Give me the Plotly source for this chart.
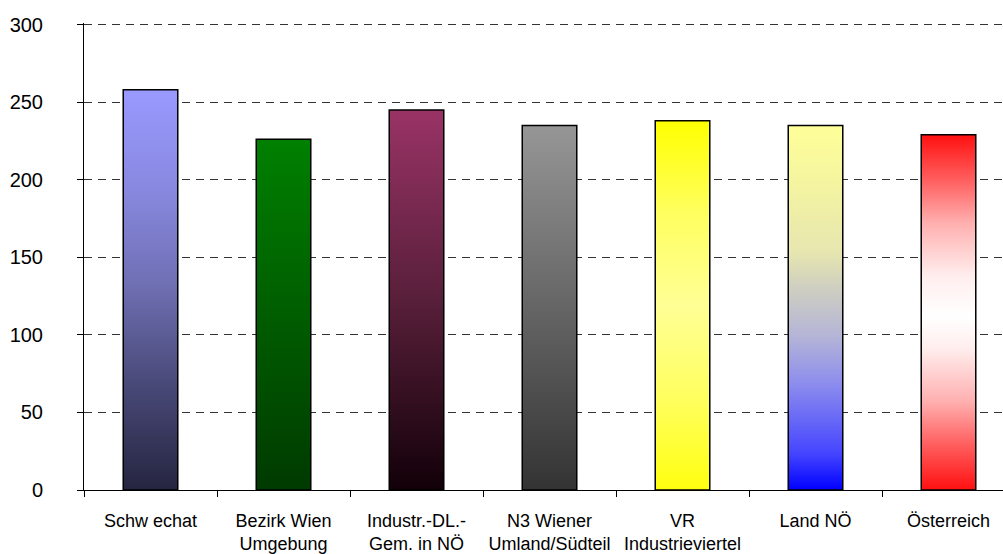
import plotly.graph_objects as go

categories = ["Schw echat", "Bezirk Wien<br>Umgebung", "Industr.-DL.-<br>Gem. in NÖ",
              "N3 Wiener<br>Umland/Südteil", "VR<br>Industrieviertel", "Land NÖ", "Österreich"]
values = [258, 226, 245, 235, 238, 235, 229]
y_ticks = [0, 50, 100, 150, 200, 250, 300]

gradients = [
    [[0, "#252540"], [0.27, "#4a4a7a"], [0.52, "#7070b5"], [0.75, "#8888e0"], [1, "#9999ff"]],
    [[0, "#003a00"], [1, "#008000"]],
    [[0, "#120008"], [0.5, "#581f3a"], [1, "#993366"]],
    [[0, "#333333"], [0.5, "#656565"], [1, "#969696"]],
    [[0, "#ffff10"], [0.25, "#ffff60"], [0.5, "#ffff95"], [0.75, "#ffff60"], [1, "#ffff00"]],
    [[0, "#0000ff"], [0.1, "#4545ff"], [0.29, "#8c8cee"], [0.42, "#b4b4d8"], [0.56, "#d0d0c0"],
     [0.65, "#e6e6b0"], [0.85, "#f5f5a0"], [1, "#ffff99"]],
    [[0, "#ff1010"], [0.13, "#ff6060"], [0.25, "#ffb0b0"], [0.4, "#ffeeee"], [0.49, "#ffffff"],
     [0.6, "#ffeeee"], [0.75, "#ffb0b0"], [0.87, "#ff6060"], [1, "#ff1010"]],
]

bar_width = 0.41
fig = go.Figure()
for i, (v, cs) in enumerate(zip(values, gradients)):
    x0, x1 = i - bar_width / 2, i + bar_width / 2
    fig.add_trace(go.Scatter(
        x=[x0, x1, x1, x0, x0], y=[0, 0, v, v, 0],
        mode="lines", fill="toself",
        fillgradient=dict(type="vertical", colorscale=cs),
        line=dict(color="black", width=1.5),
        hoverinfo="skip", showlegend=False,
    ))

fig.update_layout(
    width=1003, height=554,
    margin=dict(l=84, r=0, t=23, b=61),
    paper_bgcolor="white", plot_bgcolor="white",
    font=dict(family="Liberation Sans, Arial, sans-serif", color="black"),
    showlegend=False,
)
fig.update_xaxes(
    range=[-0.5, -0.5 + 919 / 133],
    tickvals=list(range(len(categories))), ticktext=categories,
    ticks="", showgrid=False, zeroline=False,
    showline=True, linecolor="black", linewidth=1,
    tickfont=dict(size=18), ticklabelstandoff=14,
    minor=dict(ticks="outside", tick0=-0.5, dtick=1, ticklen=6, tickcolor="black", showgrid=False),
)
fig.update_yaxes(
    range=[0, 301], tickvals=y_ticks,
    ticks="outside", ticklen=6, tickcolor="black",
    showline=True, linecolor="black", linewidth=1,
    showgrid=True, gridcolor="#333333", gridwidth=1, griddash="8px,6px",
    zeroline=False, tickfont=dict(size=20), ticklabelstandoff=30,
)

fig.write_html("out.html")
